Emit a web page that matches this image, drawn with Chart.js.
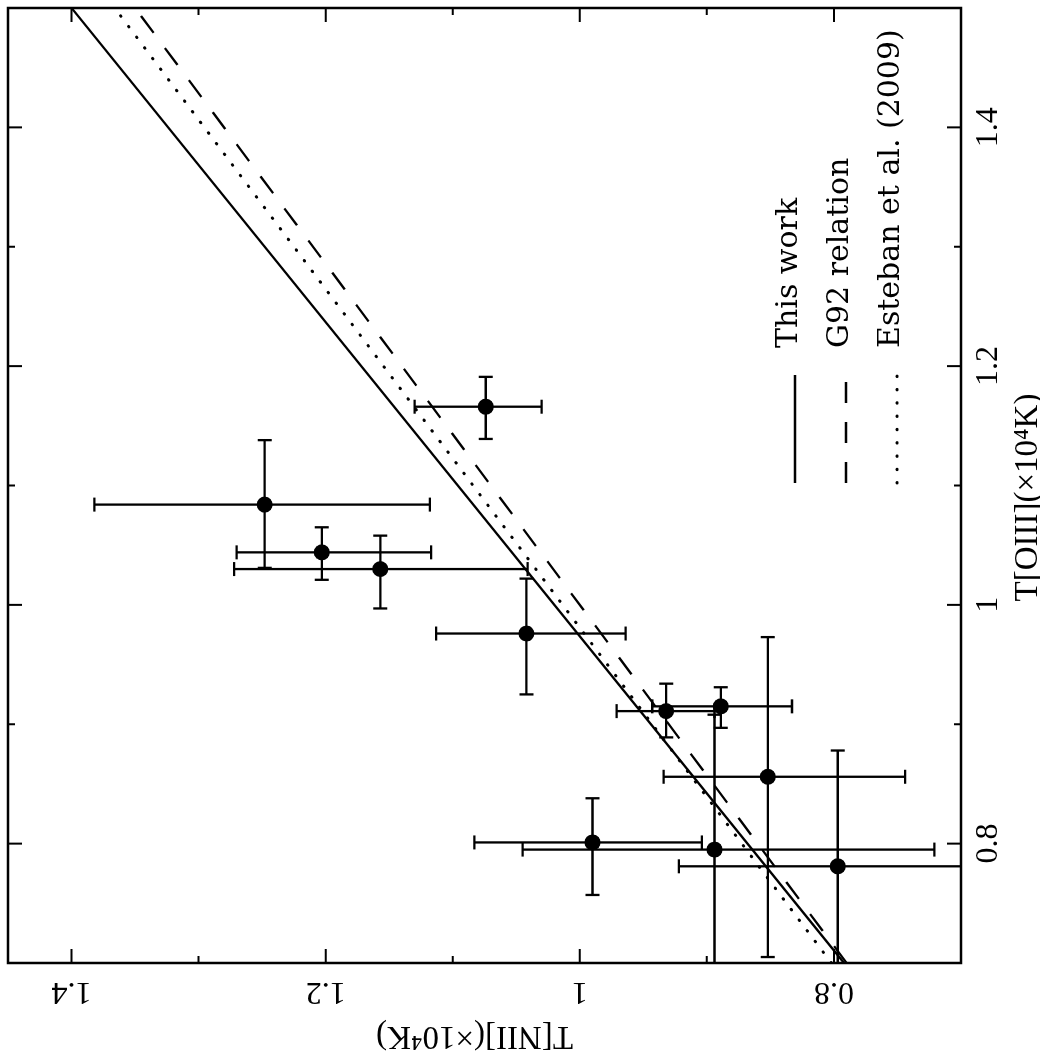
<!DOCTYPE html>
<html><head><meta charset="utf-8">
<script src="https://cdn.jsdelivr.net/npm/chart.js@4.4.1/dist/chart.umd.min.js"></script>
<style>
html,body{margin:0;padding:0;background:#fff;overflow:hidden;width:1040px;height:1059px;}
#wrap{position:absolute;left:0;top:0;width:1059px;height:1040px;transform-origin:0 0;transform:translate(0px,1059px) rotate(-90deg);}
canvas{display:block;}
</style></head><body>
<div id="wrap"><canvas id="c" width="1059" height="1040"></canvas></div>
<script>
// ---- data (units of 10^4 K) ----
const tOIII     = [1.166, 1.084, 1.044, 1.030, 0.976, 0.911, 0.915, 0.856, 0.801, 0.795, 0.781];
const tOIIILow  = [1.139, 1.031, 1.021, 0.997, 0.925, 0.889, 0.897, 0.705, 0.757, 0.600, 0.600];
const tOIIIHigh = [1.191, 1.138, 1.065, 1.058, 1.022, 0.934, 0.931, 0.973, 0.838, 0.908, 0.878];
const tNII      = [1.074, 1.248, 1.203, 1.157, 1.042, 0.932, 0.889, 0.852, 0.990, 0.894, 0.797];
const tNIILow   = [1.030, 1.118, 1.117, 1.041, 0.964, 0.894, 0.833, 0.744, 0.904, 0.721, 0.600];
const tNIIHigh  = [1.130, 1.382, 1.270, 1.272, 1.113, 0.971, 0.943, 0.934, 1.083, 1.045, 0.922];

// relation lines: T[NII] at the two ends of the T[OIII] range
const relOIII     = [0.7, 1.5];
const relThisWork = [0.792, 1.400];
const relG92      = [0.790, 1.350];
const relEsteban  = [0.802, 1.366];

const legendLabels = ['This work', 'G92 relation', 'Esteban et al. (2009)'];

const oiiiMajorTicks = [0.8, 1.0, 1.2, 1.4];
const oiiiMinorTicks = [0.9, 1.1, 1.3];
const oiiiTickLabels = ['0.8', '1', '1.2', '1.4'];
const niiMajorTicks  = [0.8, 1.0, 1.2, 1.4];
const niiMinorTicks  = [0.9, 1.1, 1.3];
const niiTickLabels  = ['0.8', '1', '1.2', '1.4'];
const xTitle = 'T[OIII](×10⁴K)';
const yTitle = 'T[NII](×10⁴K)';

const dashG92 = [21, 19];
const dashEsteban = [0.5, 12.8];

const errorBars = {
  id: 'errorBars',
  beforeDatasetsDraw(chart) {
    const {ctx, chartArea: a, scales: {x, y}} = chart;
    ctx.save();
    ctx.beginPath(); ctx.rect(a.left, a.top, a.right - a.left, a.bottom - a.top); ctx.clip();
    ctx.strokeStyle = '#000'; ctx.lineWidth = 2.3; ctx.lineCap = 'butt';
    const cap = 7;
    for (let i = 0; i < tOIII.length; i++) {
      const px = x.getPixelForValue(tOIII[i]), py = y.getPixelForValue(tNII[i]);
      const x0 = x.getPixelForValue(tOIIILow[i]), x1 = x.getPixelForValue(tOIIIHigh[i]);
      const y0 = y.getPixelForValue(tNIILow[i]), y1 = y.getPixelForValue(tNIIHigh[i]);
      ctx.beginPath();
      ctx.moveTo(x0, py); ctx.lineTo(x1, py);
      ctx.moveTo(x0, py - cap); ctx.lineTo(x0, py + cap);
      ctx.moveTo(x1, py - cap); ctx.lineTo(x1, py + cap);
      ctx.moveTo(px, y0); ctx.lineTo(px, y1);
      ctx.moveTo(px - cap, y0); ctx.lineTo(px + cap, y0);
      ctx.moveTo(px - cap, y1); ctx.lineTo(px + cap, y1);
      ctx.stroke();
    }
    ctx.restore();
  }
};

const frameAxes = {
  id: 'frameAxes',
  afterDraw(chart) {
    const {ctx, chartArea: a, scales: {x, y}} = chart;
    ctx.save();
    ctx.strokeStyle = '#000'; ctx.fillStyle = '#000';
    ctx.lineWidth = 2.5;
    ctx.strokeRect(a.left, a.top, a.right - a.left, a.bottom - a.top);
    ctx.lineWidth = 2;
    ctx.beginPath();
    const xt = (v, len) => { const p = x.getPixelForValue(v);
      ctx.moveTo(p, a.bottom); ctx.lineTo(p, a.bottom - len);
      ctx.moveTo(p, a.top); ctx.lineTo(p, a.top + len); };
    const yt = (v, len) => { const p = y.getPixelForValue(v);
      ctx.moveTo(a.left, p); ctx.lineTo(a.left + len, p);
      ctx.moveTo(a.right, p); ctx.lineTo(a.right - len, p); };
    oiiiMajorTicks.forEach(v => xt(v, 14));
    oiiiMinorTicks.forEach(v => xt(v, 7));
    niiMajorTicks.forEach(v => yt(v, 14));
    niiMinorTicks.forEach(v => yt(v, 7));
    ctx.stroke();

    // tick labels
    ctx.font = '32px "Liberation Serif"';
    ctx.textAlign = 'center'; ctx.textBaseline = 'alphabetic';
    oiiiMajorTicks.forEach((v, i) => ctx.fillText(oiiiTickLabels[i], x.getPixelForValue(v), a.bottom + 36));
    niiMajorTicks.forEach((v, i) => {
      ctx.save(); ctx.translate(a.left - 20, y.getPixelForValue(v)); ctx.rotate(-Math.PI / 2);
      ctx.fillText(niiTickLabels[i], 0, 0); ctx.restore();
    });
    // axis titles
    ctx.font = '33px "Liberation Serif"';
    ctx.fillText(xTitle, (a.left + a.right) / 2 - 12, a.bottom + 76);
    ctx.save(); ctx.translate(a.left - 64, (a.top + a.bottom) / 2 - 10); ctx.rotate(-Math.PI / 2);
    ctx.fillText(yTitle, 0, 0); ctx.restore();

    // legend
    const rows = [795, 846, 897];
    const dashes = [[], dashG92, dashEsteban];
    ctx.font = '30px "DejaVu Serif"';
    ctx.textAlign = 'left';
    legendLabels.forEach((lab, i) => {
      ctx.save();
      ctx.setLineDash(dashes[i]);
      ctx.lineWidth = i === 2 ? 3 : 2.3;
      ctx.lineCap = i === 2 ? 'round' : 'butt';
      ctx.beginPath(); ctx.moveTo(576, rows[i]); ctx.lineTo(684, rows[i]); ctx.stroke();
      ctx.restore();
      ctx.fillText(lab, 711, rows[i] + 2);
    });
    ctx.restore();
  }
};

const pts = (xs, ys) => xs.map((v, i) => ({x: v, y: ys[i]}));

new Chart(document.getElementById('c').getContext('2d'), {
  type: 'scatter',
  data: {
    datasets: [
      {label: legendLabels[0], type: 'line', data: pts(relOIII, relThisWork), borderColor: '#000', borderWidth: 2.3, pointRadius: 0, fill: false},
      {label: legendLabels[1], type: 'line', data: pts(relOIII, relG92), borderColor: '#000', borderWidth: 2.3, pointRadius: 0, fill: false, borderDash: dashG92},
      {label: legendLabels[2], type: 'line', data: pts(relOIII, relEsteban), borderColor: '#000', borderWidth: 3, pointRadius: 0, fill: false, borderDash: dashEsteban, borderCapStyle: 'round'},
      {label: 'Objects', type: 'scatter', data: pts(tOIII, tNII), pointRadius: 8, backgroundColor: '#000', borderWidth: 0}
    ]
  },
  options: {
    responsive: false, animation: false, devicePixelRatio: 1,
    layout: {padding: {left: 96, right: 2, top: 2, bottom: 79}},
    plugins: {legend: {display: false}, tooltip: {enabled: false}},
    scales: {
      x: {type: 'linear', min: 0.7, max: 1.5, display: false},
      y: {type: 'linear', min: 0.7, max: 1.45, display: false}
    }
  },
  plugins: [errorBars, frameAxes]
});
</script>
</body></html>
